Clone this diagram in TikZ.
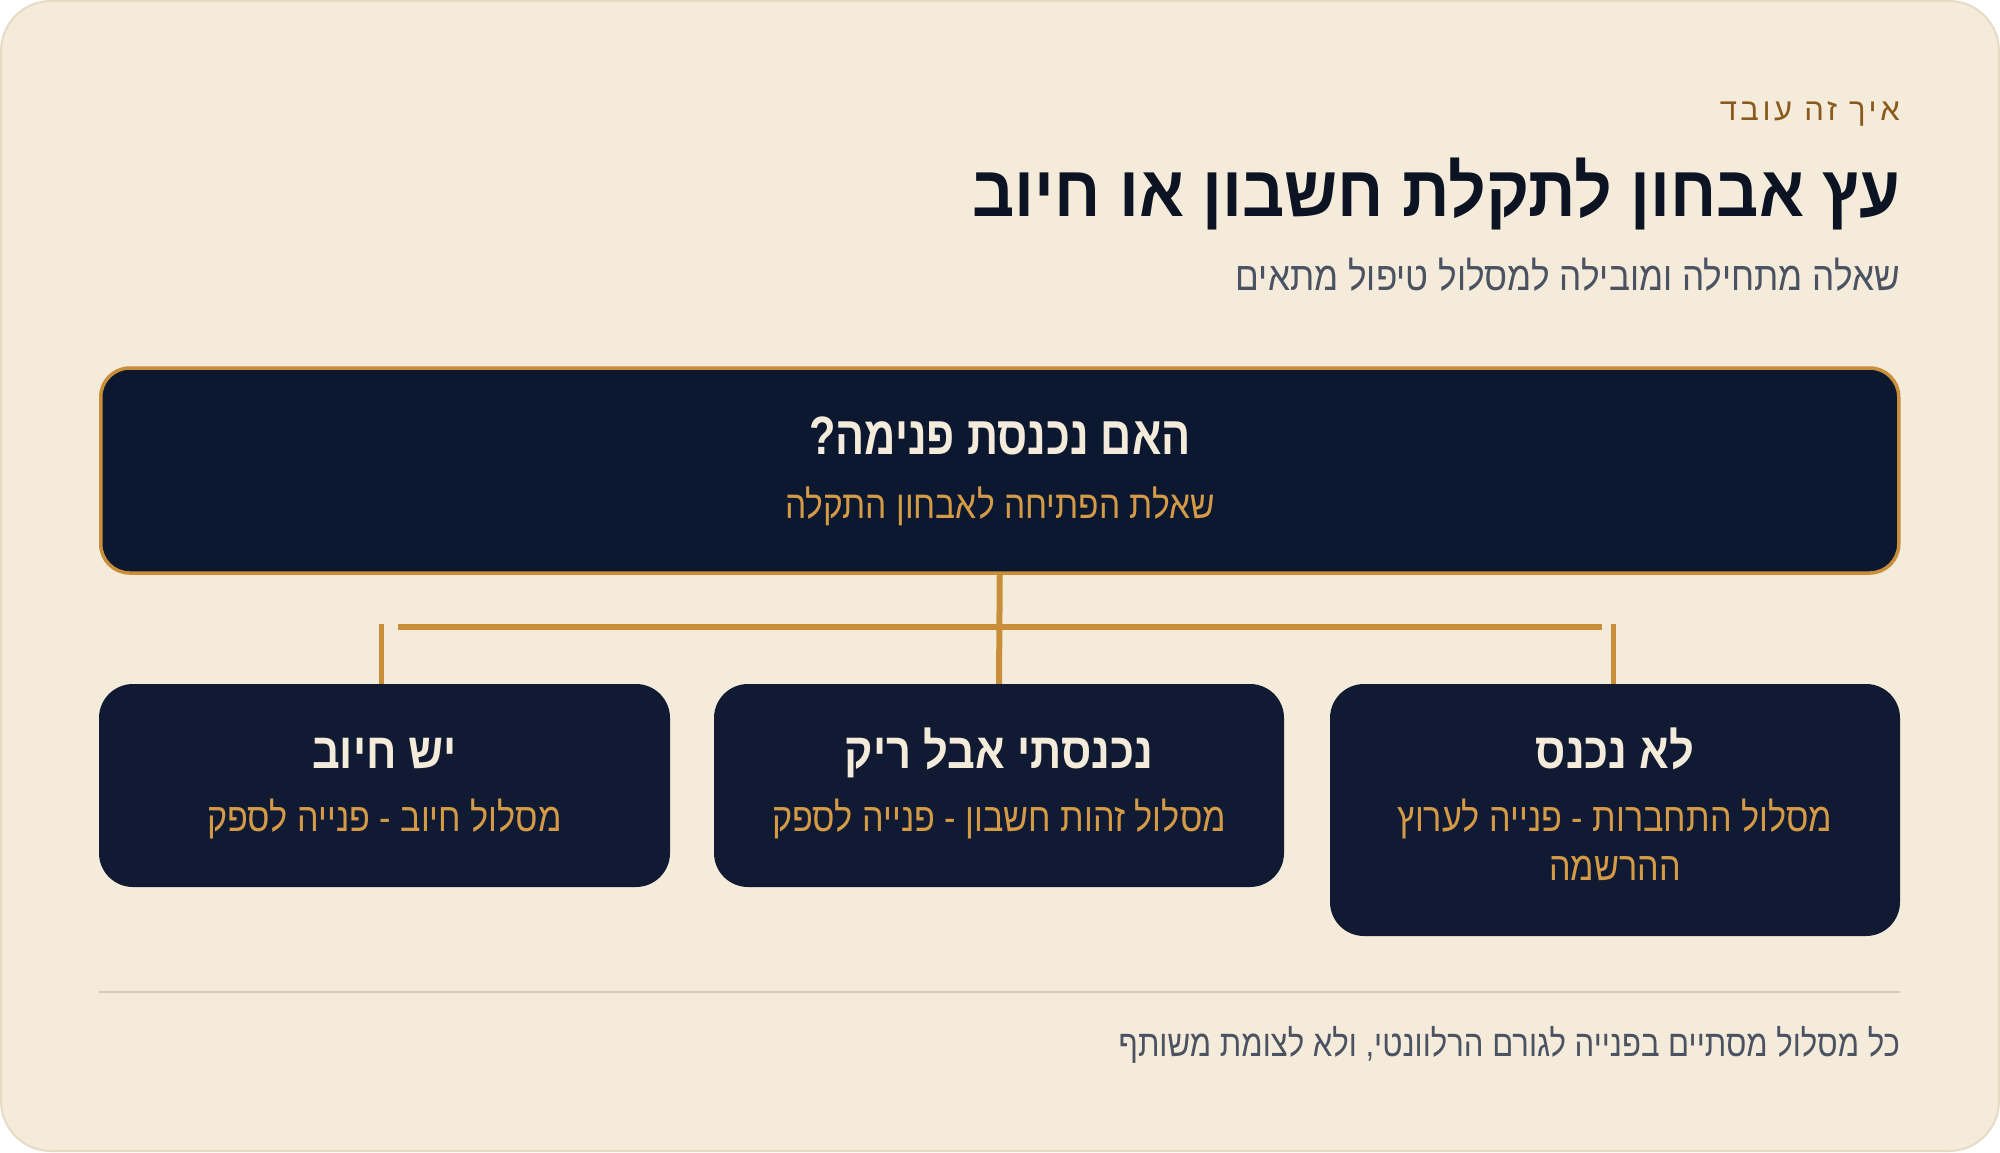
\documentclass[tikz,border=0pt]{standalone}
\usepackage{fontspec}
\setmainfont{Liberation Sans}
\newfontfamily\hebfont[Script=Hebrew]{Liberation Sans}
\TeXXeTstate=1
\usetikzlibrary{positioning}

\definecolor{paper}{HTML}{F5EBDB}
\definecolor{frame}{HTML}{E6DBC3}
\definecolor{eyebrow}{HTML}{8A5A1C}
\definecolor{ink}{HTML}{0C1322}
\definecolor{muted}{HTML}{4B5262}
\definecolor{topnavy}{HTML}{0C1730}
\definecolor{cardnavy}{HTML}{101B33}
\definecolor{gold}{HTML}{C98E3A}
\definecolor{goldtext}{HTML}{D49A45}
\definecolor{cream}{HTML}{F5EBDB}
\definecolor{rule}{HTML}{D4CBB8}

% size, horizontal squeeze
\newcommand\hebat[2]{\hebfont\fontsize{#1}{#1}\selectfont\addfontfeatures{FakeStretch=#2}}
\newcommand\hebbf[2]{\hebfont\bfseries\fontsize{#1}{#1}\selectfont\addfontfeatures{FakeStretch=#2}}

\begin{document}
\begin{tikzpicture}[x=1pt,y=-1pt,
  card/.style={rectangle,rounded corners=34pt,fill=cardnavy,inner sep=0pt,
    minimum width=570pt},
  head/.style={anchor=base,inner sep=0pt,text=cream,font=\hebbf{50}{0.87}},
  sub/.style={anchor=base,inner sep=0pt,text=goldtext,font=\hebat{40}{0.855}},
  flush/.style={anchor=base east,inner sep=0pt},
  link/.style={draw=gold,line width=6pt},
  stub/.style={draw=gold,line width=5pt}]
  \useasboundingbox (0,0) rectangle (2000,1152);
  \draw[fill=paper,draw=frame,line width=2pt,rounded corners=50pt] (1,1) rectangle (1999,1151);

  % header
  \node[flush,text=eyebrow,font=\hebfont\fontsize{31}{36}\selectfont\addfontfeatures{LetterSpace=11.5}]
    (kicker) at (1900,120) {\beginR איך זה עובד\endR};
  \node[flush,text=ink,font=\hebbf{72}{0.918}]
    (title) at (1900,216.5) {\beginR עץ אבחון לתקלת חשבון או חיוב\endR};
  \node[flush,text=muted,font=\hebat{40}{0.878}]
    (lede) at (1900,290) {\beginR שאלה מתחילה ומובילה למסלול טיפול מתאים\endR};

  % question
  \node[rectangle,rounded corners=29pt,fill=topnavy,draw=gold,line width=3.5pt,
    minimum width=1798pt,minimum height=205pt] (q) at (999.75,470.5) {};
  \node[head,font=\hebbf{54}{0.80}] (q-head) at (1000,454.3)
    {\beginR האם נכנסת פנימה?\endR};
  \node[sub,font=\hebat{39}{0.86}] (q-sub) at (1000,518.3)
    {\beginR שאלת הפתיחה לאבחון התקלה\endR};

  % answers
  \node[card,minimum width=571pt,minimum height=203pt] (charge) at (384.5,785.5) {};
  \node[card,minimum height=203pt] (blank) at (999,785.5) {};
  \node[card,minimum height=252pt] (nologin) at (1615,810) {};

  \node[head] (charge-head) at (charge.center |- 0,768.3) {\beginR יש חיוב\endR};
  \node[sub] (charge-sub) at (charge.center |- 0,831.7) {\beginR מסלול חיוב - פנייה לספק\endR};
  \node[head] (blank-head) at (blank.center |- 0,768.3) {\beginR נכנסתי אבל ריק\endR};
  \node[sub] (blank-sub) at (blank.center |- 0,831.7) {\beginR מסלול זהות חשבון - פנייה לספק\endR};
  \node[head] (nologin-head) at (nologin.center |- 0,768.3) {\beginR לא נכנס\endR};
  \node[sub] (nologin-sub) at (nologin.center |- 0,831.7) {\beginR מסלול התחברות - פנייה לערוץ\endR};
  \node[sub] (nologin-sub2) at (nologin.center |- 0,880) {\beginR ההרשמה\endR};

  % connectors
  \coordinate (busL) at (398,626.5);
  \coordinate (busR) at (1602,626.5);
  \coordinate (tapL) at (381,624);
  \coordinate (tapR) at (1613,624);
  \draw[link] (q.south) -- (blank.north);
  \draw[link] (busL) -- (busR);
  \draw[stub] (tapL) -- (tapL |- charge.north);
  \draw[stub] (tapR) -- (tapR |- nologin.north);

  % footer
  \coordinate (ruleL) at (99,992);
  \coordinate (ruleR) at (1900,992);
  \draw[draw=rule,line width=2pt] (ruleL) -- (ruleR);
  \node[flush,text=muted,font=\hebat{37}{0.84}]
    (note) at (1900,1056.7) {\beginR כל מסלול מסתיים בפנייה לגורם הרלוונטי, ולא לצומת משותף\endR};
\end{tikzpicture}
\end{document}
